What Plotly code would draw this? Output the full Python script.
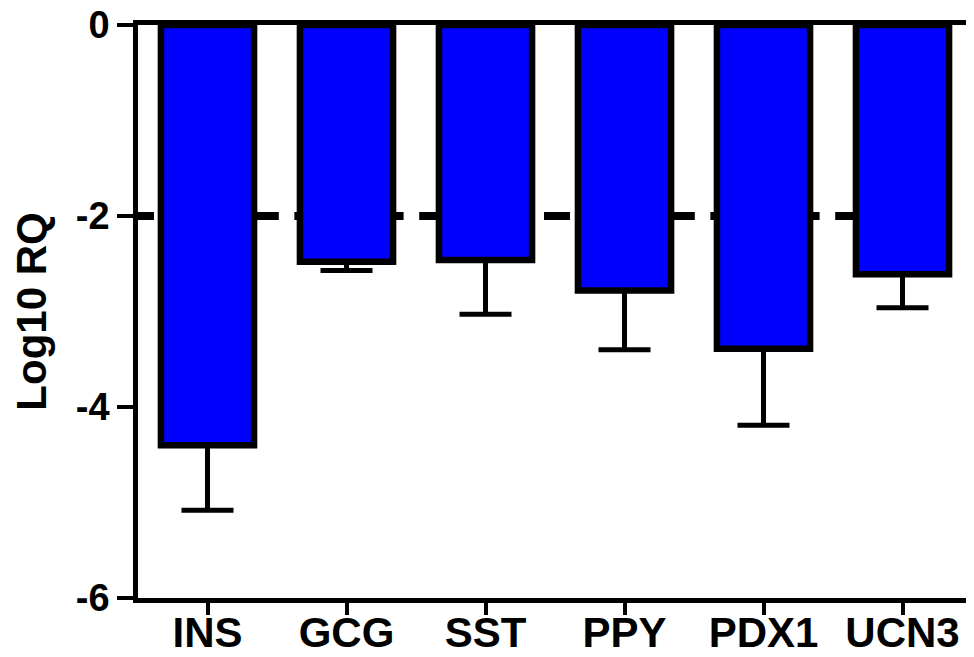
import plotly.graph_objects as go

genes = ["INS", "GCG", "SST", "PPY", "PDX1", "UCN3"]
log10_rq = [-4.40, -2.48, -2.46, -2.78, -3.39, -2.61]
err_down = [0.68, 0.09, 0.57, 0.62, 0.80, 0.35]
err_up = [0, 0, 0, 0, 0, 0]
y_ticks = [0, -2, -4, -6]
ref_level = -2

FONT = "Liberation Sans, Arial, sans-serif"

fig = go.Figure()
fig.add_trace(go.Bar(
    x=genes,
    y=log10_rq,
    width=0.67,
    marker=dict(color="#0000FF", line=dict(color="black", width=6.5)),
    error_y=dict(type="data", symmetric=False, array=err_up, arrayminus=err_down,
                 color="black", thickness=5, width=26),
    showlegend=False,
))

# dashed reference line at -2, behind the bars
fig.add_shape(type="line", xref="x", yref="y", x0=-0.572, x1=5.0,
              y0=ref_level, y1=ref_level, layer="below",
              line=dict(color="black", width=8, dash="26px,15.6px"))

# page body has an 8px default margin, so the figure is 8px smaller than the window
fig.update_layout(
    width=966, height=649,
    margin=dict(l=130, r=2, t=17, b=59, pad=0),
    paper_bgcolor="white", plot_bgcolor="white",
    xaxis=dict(
        range=[-0.5, 5.5], showline=True, linecolor="black", linewidth=4.5,
        mirror=True, ticks="outside", ticklen=12, tickwidth=4, tickcolor="black",
        showgrid=False, zeroline=False, automargin=False, ticklabelstandoff=-18,
        ticklabeloverflow="allow",
        tickfont=dict(family=FONT, size=42, color="black", weight="bold"),
    ),
    yaxis=dict(
        range=[-6, 0], tickvals=y_ticks, ticktext=[str(v) for v in y_ticks],
        showline=True, linecolor="black", linewidth=4.5,
        ticks="outside", ticklen=16, tickwidth=4, tickcolor="black",
        showgrid=False, zeroline=False, automargin=False,
        ticklabeloverflow="allow",
        tickfont=dict(family=FONT, size=38, color="black", weight="bold"),
        title=dict(text="Log10 RQ", standoff=18,
                   font=dict(family=FONT, size=42, color="black", weight="bold")),
    ),
)

fig.write_html("out.html")
